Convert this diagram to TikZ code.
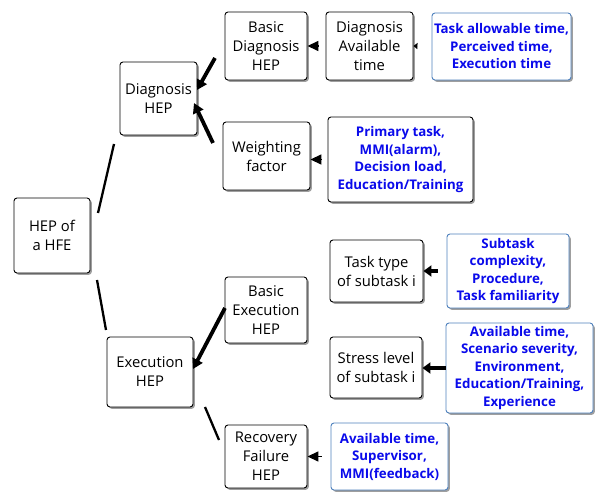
\documentclass[tikz,border=0pt]{standalone}
\usepackage{fontspec}
\setmainfont{Open Sans}
\usetikzlibrary{arrows.meta,shadows}
\definecolor{txtblue}{RGB}{10,10,235}
\definecolor{bordblue}{RGB}{79,129,189}
\begin{document}
\begin{tikzpicture}[x=1pt,y=-1pt,
  box/.style={draw=black, line width=0.9pt, rounded corners=3pt, fill=white, align=center, inner sep=0pt,
    drop shadow={shadow xshift=1.8pt, shadow yshift=-1.8pt, fill=gray!75, opacity=1},
    font=\fontsize{14.8}{19}\selectfont},
  kbox/.style={box, text=txtblue, font=\bfseries\fontsize{13.3}{17.5}\selectfont},
  bbox/.style={kbox, draw=bordblue},
  big/.style={line width=3.8pt, -{Triangle[length=10pt,width=11pt]}},
  stub/.style={line width=4pt, -{Triangle[length=8pt,width=11pt]}},
  head/.style={line width=1.5pt, -{Triangle[length=11pt,width=10pt]}},
  tiny/.style={line width=1pt, -{Triangle[length=4pt,width=6pt]}},
  link/.style={line width=2.3pt}
]
\useasboundingbox (0,0) rectangle (595,494);
% nodes
\node[box, minimum width=76pt, minimum height=75pt] (hfe) at (52,235.5) {HEP of\\a HFE};
\node[box, minimum width=77pt, minimum height=73pt] (dhep) at (158.5,98.5) {Diagnosis\\HEP};
\node[box, minimum width=82pt, minimum height=68pt] (bdhep) at (266,46) {Basic\\Diagnosis\\HEP};
\node[box, minimum width=87pt, minimum height=68pt] (dat) at (369.5,46) {Diagnosis\\Available\\time};
\node[bbox, minimum width=139pt, minimum height=67pt] (tat) at (501.5,46.5) {Task allowable time,\\Perceived time,\\Execution time};
\node[box, minimum width=87pt, minimum height=68pt] (wf) at (266.5,156) {Weighting\\factor};
\node[kbox, minimum width=145pt, minimum height=85pt] (pt) at (400.5,159.5) {Primary task,\\MMI(alarm),\\Decision load,\\Education/Training};
\node[box, minimum width=86pt, minimum height=70pt] (ehep) at (150,372) {Execution\\HEP};
\node[box, minimum width=82pt, minimum height=66pt] (behep) at (266,310) {Basic\\Execution\\HEP};
\node[box, minimum width=82pt, minimum height=63pt] (rfhep) at (266,456.5) {Recovery\\Failure\\HEP};
\node[box, minimum width=93pt, minimum height=62pt] (tt) at (376.5,271) {Task type\\of subtask i};
\node[box, minimum width=92pt, minimum height=61pt] (sl) at (376,367.5) {Stress level\\of subtask i};
\node[bbox, minimum width=122pt, minimum height=74pt] (sc) at (508,271) {Subtask\\complexity,\\Procedure,\\Task familiarity};
\node[bbox, minimum width=147pt, minimum height=90pt] (at) at (519.5,368) {Available time,\\Scenario severity,\\Environment,\\Education/Training,\\Experience};
\node[bbox, minimum width=117pt, minimum height=67pt] (atsup) at (389.5,456.5) {Available time,\\Supervisor,\\MMI(feedback)};
% connector end points
\coordinate (l1a) at (98,213);  \coordinate (l1b) at (114,144);
\coordinate (l2a) at (97,280);  \coordinate (l2b) at (106,330);
\coordinate (l3a) at (205,407); \coordinate (l3b) at (219,440);
\coordinate (a1s) at (215,58);  \coordinate (a1t) at (197,90);
\coordinate (a2s) at (213,143); \coordinate (a2t) at (194,103);
\coordinate (a3s) at (225,308); \coordinate (a3t) at (193,369);
% plain links
\draw[link] (l1a) -- (l1b);
\draw[link] (l2a) -- (l2b);
\draw[link] (l3a) -- (l3b);
% big arrows
\draw[big] (a1s) -- (a1t);
\draw[big] (a2s) -- (a2t);
\draw[big] (a3s) -- (a3t);
% stub arrows
\draw[head, shorten <=7pt] (dat.west) -- (bdhep.east);
\draw[tiny, shorten <=15pt] (tat.west) -- (dat.east);
\draw[head, shorten <=6pt] (pt.west) -- (wf.east |- pt.west);
\draw[stub, shorten <=9pt] (sc.west) -- (tt.east |- sc.west);
\draw[stub] (at.west) -- (sl.east |- at.west);
\draw[head, shorten <=9pt] (atsup.west) -- (rfhep.east |- atsup.west);
\end{tikzpicture}
\end{document}
